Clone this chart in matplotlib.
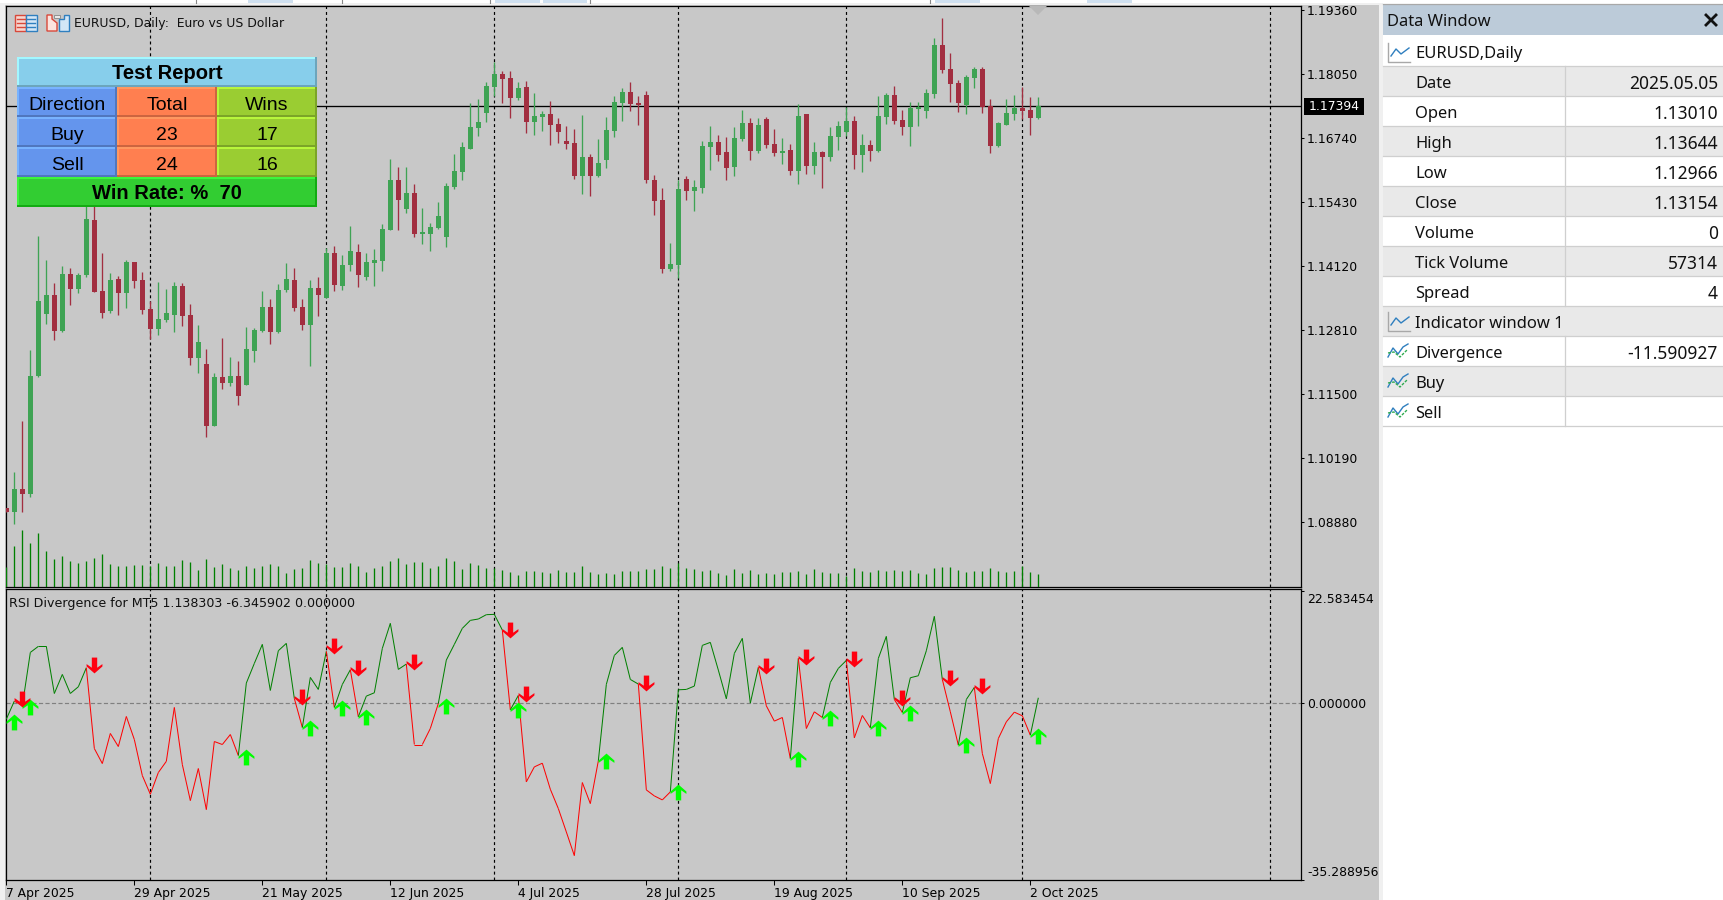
# plot.py - EURUSD daily chart with RSI divergence pane and data window
import numpy as np
import matplotlib
matplotlib.use("Agg")
import matplotlib.pyplot as plt
from matplotlib.collections import LineCollection
from matplotlib.patches import Rectangle, Polygon
from matplotlib.path import Path
from matplotlib.transforms import ScaledTranslation

W, H = 1723, 900

# bars start on 7 Apr 2025, index 0
opens = [
    1.0917,1.0908,1.0956,1.0945,1.1187,1.1314,1.1353,1.1279,1.1396,1.1365,
    1.1394,1.1506,1.1361,1.1320,1.1385,1.1357,1.1420,1.1383,1.1324,1.1283,
    1.13010,1.1312,1.1371,1.1312,1.1224,1.1211,1.1084,1.1185,1.1172,1.1187,
    1.1168,1.1238,1.1279,1.1328,1.1277,1.1363,1.1383,1.1328,1.1291,1.1367,
    1.1346,1.1439,1.1371,1.1414,1.1441,1.1390,1.1418,1.1422,1.1486,1.1588,
    1.1529,1.1561,1.1478,1.1478,1.1490,1.1471,1.1574,1.1604,1.1652,1.1695,
    1.1725,1.1778,1.1805,1.1797,1.1756,1.1778,1.1707,1.1717,1.1723,1.1703,
    1.1668,1.1664,1.1596,1.1635,1.1596,1.1629,1.1688,1.1746,1.1768,1.1746,
    1.1762,1.1588,1.1547,1.1406,1.1414,1.1590,1.1566,1.1572,1.1656,1.1666,
    1.1645,1.1615,1.1672,1.1705,1.1647,1.1713,1.1662,1.1643,1.1650,1.1606,
    1.1723,1.1617,1.1645,1.1635,1.1676,1.1686,1.1709,1.1639,1.1660,1.1647,
    1.1717,1.1762,1.1711,1.1697,1.1733,1.1729,1.1764,1.1864,1.1815,1.1787,
    1.1742,1.1797,1.1815,1.1739,1.1658,1.1701,1.1723,1.1735,1.1731,1.1715,
]
highs = [
    1.0917,1.0990,1.1095,1.1240,1.1473,1.1424,1.1377,1.1412,1.1408,1.1398,
    1.1547,1.1537,1.1439,1.1398,1.1392,1.1424,1.1420,1.1400,1.1340,1.1379,
    1.13644,1.1379,1.1377,1.1334,1.1291,1.1242,1.1193,1.1265,1.1226,1.1218,
    1.1287,1.1285,1.1361,1.1344,1.1375,1.1418,1.1408,1.1344,1.1383,1.1390,
    1.1449,1.1453,1.1435,1.1494,1.1457,1.1439,1.1447,1.1498,1.1631,1.1615,
    1.1615,1.1580,1.1531,1.1500,1.1543,1.1582,1.1641,1.1666,1.1746,1.1754,
    1.1789,1.1830,1.1811,1.1811,1.1789,1.1791,1.1766,1.1729,1.1750,1.1715,
    1.1699,1.1692,1.1721,1.1641,1.1672,1.1717,1.1760,1.1776,1.1789,1.1760,
    1.1770,1.1598,1.1572,1.1459,1.1588,1.1596,1.1588,1.1668,1.1699,1.1680,
    1.1676,1.1697,1.1731,1.1715,1.1715,1.1717,1.1692,1.1674,1.1662,1.1744,
    1.1723,1.1666,1.1647,1.1697,1.1709,1.1738,1.1719,1.1682,1.1670,1.1760,
    1.1766,1.1780,1.1731,1.1748,1.1748,1.1774,1.1879,1.1920,1.1848,1.1793,
    1.1803,1.1819,1.1819,1.1754,1.1707,1.1754,1.1762,1.1778,1.1758,1.1758,
]
lows = [
    1.0908,1.0884,1.0908,1.0939,1.1185,1.1293,1.1261,1.1277,1.1332,1.1357,
    1.1390,1.1359,1.1306,1.1316,1.1312,1.1326,1.1367,1.1314,1.1263,1.1271,
    1.12966,1.1277,1.1289,1.1209,1.1193,1.1062,1.1084,1.1160,1.1166,1.1127,
    1.1168,1.1215,1.1277,1.1252,1.1275,1.1359,1.1320,1.1281,1.1207,1.1310,
    1.1346,1.1361,1.1363,1.1402,1.1369,1.1383,1.1371,1.1402,1.1486,1.1486,
    1.1520,1.1471,1.1457,1.1443,1.1488,1.1451,1.1570,1.1588,1.1652,1.1678,
    1.1707,1.1760,1.1746,1.1715,1.1752,1.1684,1.1680,1.1688,1.1660,1.1664,
    1.1652,1.1590,1.1559,1.1555,1.1594,1.1613,1.1676,1.1709,1.1729,1.1701,
    1.1582,1.1516,1.1398,1.1402,1.1387,1.1547,1.1525,1.1561,1.1609,1.1627,
    1.1588,1.1596,1.1668,1.1629,1.1643,1.1654,1.1637,1.1621,1.1598,1.1580,
    1.1601,1.1601,1.1572,1.1627,1.1650,1.1678,1.1611,1.1604,1.1627,1.1645,
    1.1703,1.1703,1.1680,1.1658,1.1699,1.1715,1.1756,1.1807,1.1748,1.1727,
    1.1723,1.1776,1.1725,1.1643,1.1656,1.1701,1.1711,1.1713,1.1680,1.1713,
]
closes = [
    1.0908,1.0956,1.0945,1.1187,1.1340,1.1353,1.1279,1.1396,1.1365,1.1394,
    1.1508,1.1359,1.1316,1.1383,1.1357,1.1420,1.1381,1.1322,1.1283,1.1304,
    1.13154,1.1371,1.1310,1.1224,1.1257,1.1084,1.1185,1.1172,1.1187,1.1146,
    1.1242,1.1281,1.1328,1.1277,1.1363,1.1385,1.1326,1.1291,1.1367,1.1353,
    1.1439,1.1373,1.1414,1.1443,1.1394,1.1420,1.1424,1.1488,1.1588,1.1547,
    1.1561,1.1478,1.1482,1.1492,1.1514,1.1576,1.1606,1.1656,1.1697,1.1707,
    1.1780,1.1805,1.1795,1.1756,1.1776,1.1707,1.1719,1.1723,1.1701,1.1686,
    1.1662,1.1596,1.1635,1.1596,1.1623,1.1690,1.1748,1.1768,1.1744,1.1742,
    1.1588,1.1545,1.1406,1.1416,1.1570,1.1566,1.1574,1.1658,1.1666,1.1639,
    1.1613,1.1674,1.1705,1.1647,1.1701,1.1660,1.1643,1.1647,1.1606,1.1719,
    1.1617,1.1645,1.1635,1.1678,1.1699,1.1709,1.1639,1.1660,1.1647,1.1719,
    1.1762,1.1709,1.1697,1.1735,1.1737,1.1766,1.1864,1.1813,1.1785,1.1746,
    1.1799,1.1815,1.1737,1.1658,1.1705,1.1725,1.1735,1.1729,1.1715,1.17394,
]
tick_volume = [
    54580,111890,155550,120080,147370,98240,76410,84600,70950,65500,
    70950,79140,90060,62770,57310,57310,60040,60040,57310,65500,
    57314,57310,73680,68230,46390,76410,54580,62770,51850,46390,
    57310,51850,57310,62770,57310,38210,49120,51850,73680,65500,
    62770,54580,54580,65500,57310,40940,51850,57310,70950,79140,
    62770,68230,68230,51850,57310,79140,70950,49120,65500,60040,
    51850,51850,46390,40940,32750,43660,43660,40940,38210,46390,
    40940,40940,57310,40940,35480,38210,35480,43660,43660,43660,
    49120,49120,57310,51850,65500,51850,49120,43660,46390,38210,
    32750,49120,38210,46390,35480,38210,35480,40940,40940,43660,
    35480,49120,40940,38210,38210,30020,51850,43660,40940,46390,
    43660,46390,43660,46390,38210,35480,51850,54580,54580,46390,
    40940,43660,43660,51850,43660,40940,43660,57310,40940,35480,
]
divergence = [
    -3.14,0.47,-0.47,10.22,11.43,11.43,2.00,5.81,2.00,3.34,
    7.15,-9.02,-12.03,-6.01,-8.62,-2.61,-7.22,-14.44,-18.18,-13.83,
    -11.590927,-0.80,-12.23,-19.45,-13.03,-21.25,-7.62,-8.22,-6.22,-10.43,
    4.08,8.02,11.83,2.61,10.56,12.03,1.00,-4.81,5.21,2.81,
    10.43,-0.80,3.81,6.75,-2.67,1.47,2.14,11.03,16.04,6.82,
    7.89,-8.22,-8.22,-5.01,0.00,8.69,11.83,15.04,16.64,16.91,
    17.78,17.84,14.70,-1.27,1.60,-15.70,-12.70,-11.96,-17.18,-21.05,
    -25.73,-30.47,-15.84,-20.05,-11.49,3.81,9.62,11.23,4.81,3.88,
    -17.31,-18.51,-19.31,-17.71,2.74,2.81,3.48,11.63,12.23,6.68,
    0.94,10.02,13.03,0.07,7.22,-0.47,-3.54,-2.81,-11.03,9.02,
    -5.01,-1.67,-2.81,4.21,7.02,8.62,-6.88,-2.41,-4.88,9.02,
    13.43,0.80,-1.80,5.15,5.55,10.56,17.44,4.81,-1.67,-8.35,
    0.80,3.21,-10.02,-16.04,-7.02,-3.68,-1.74,-2.47,-6.345902,1.138303,
]
buy_bars = [1, 3, 30, 38, 42, 45, 55, 64, 75, 84, 99, 103, 109, 113, 120, 129]
buy_vals = [-3.68, -0.80, -10.63, -5.01, -1.00, -2.81, -0.60, -1.34, -11.49, -17.64,
            -11.03, -3.01, -5.01, -2.00, -8.22, -6.42]
sell_bars = [2, 11, 37, 41, 44, 51, 63, 65, 80, 95, 100, 106, 112, 118, 122]
sell_vals = [0.87, 7.75, 1.34, 11.56, 7.15, 8.22, 14.77, 1.94, 4.14, 7.55, 9.36, 8.96,
             1.14, 5.15, 3.54]

separator_bars = [18, 40, 61, 84, 105, 127, 158]
date_ticks = [0, 16, 32, 48, 64, 80, 96, 112, 128]
date_labels = ["7 Apr 2025", "29 Apr 2025", "21 May 2025", "12 Jun 2025", "4 Jul 2025",
               "28 Jul 2025", "19 Aug 2025", "10 Sep 2025", "2 Oct 2025"]
price_ticks = [1.19360, 1.18050, 1.16740, 1.15430, 1.14120, 1.12810, 1.11500, 1.10190, 1.08880]
last_price = 1.17394
ind_ticks = [22.583454, 0.0, -35.288956]

report_rows = [["Direction", "Total", "Wins"], ["Buy", "23", "17"], ["Sell", "24", "16"]]
report_title = "Test Report"
report_footer = "Win Rate: %  70"

window_rows = [("Date", "2025.05.05"), ("Open", "1.13010"), ("High", "1.13644"), ("Low", "1.12966"),
               ("Close", "1.13154"), ("Volume", "0"), ("Tick Volume", "57314"), ("Spread", "4")]
window_ind_rows = [("Divergence", "-11.590927"), ("Buy", ""), ("Sell", "")]

CHART_BG = "#C8C8C8"
CANDLE_UP = "#3FA354"
CANDLE_DOWN = "#A22E40"
VOL_GREEN = "#008000"
CHART_FONT = 8.9
UI_FONT = "Noto Sans"
LABEL_SIZE = 11.9
VALUE_SIZE = 12.5
INK = "#111111"


def px_axes(fig, left, top, right, bottom):
    return fig.add_axes([left / W, 1 - bottom / H, (right - left) / W, (bottom - top) / H])


def style_chart_axes(ax):
    ax.set_facecolor(CHART_BG)
    for s in ax.spines.values():
        s.set_linewidth(0.9)
        s.set_color("black")
    ax.yaxis.tick_right()
    ax.tick_params(axis="y", length=2.4, width=0.75, pad=2.0, labelsize=CHART_FONT, colors="black")
    for b in separator_bars:
        ax.axvline(b, color="black", lw=0.85, ls=(0, (2.5, 2.5)), zorder=1)


def draw_candles(ax):
    x = np.arange(len(closes))
    o, h, l, c = map(np.array, (opens, highs, lows, closes))
    up = c >= o
    for mask, col in ((up, CANDLE_UP), (~up, CANDLE_DOWN)):
        ax.vlines(x[mask], l[mask], h[mask], color=col, lw=0.95, zorder=3)
        ax.bar(x[mask], np.abs(c - o)[mask], bottom=np.minimum(o, c)[mask], width=0.625,
               color=col, linewidth=0, zorder=4)


def draw_divergence(ax):
    x = np.arange(len(divergence))
    segs, cols = [], []
    col = VOL_GREEN
    for k in range(1, len(x)):
        if k in buy_bars:
            col = VOL_GREEN
        elif k in sell_bars:
            col = "#FF0000"
        segs.append([(x[k - 1], divergence[k - 1]), (x[k], divergence[k])])
        cols.append(col)
    ax.add_collection(LineCollection(segs, colors=cols, linewidths=0.72, zorder=3))

    up = Path([(0, 1), (1, 0.12), (1, -0.18), (0.34, 0.28), (0.34, -1), (-0.34, -1),
               (-0.34, 0.28), (-1, -0.18), (-1, 0.12), (0, 1)], closed=True)
    down = Path([(x_, -y_) for x_, y_ in up.vertices], closed=True)
    ax.scatter(buy_bars, buy_vals, marker=up, s=130, color="#00FF00", linewidths=0, zorder=5)
    ax.scatter(sell_bars, sell_vals, marker=down, s=130, color="#FF0010", linewidths=0, zorder=5)


def bevel_cell(ui, x0, y0, x1, y1, fill, light, dark, text, bold=False):
    ui.add_patch(Rectangle((x0, y0), x1 - x0, y1 - y0, fc=fill, ec="none"))
    ui.add_patch(Rectangle((x0, y0), x1 - x0, 2, fc=light, ec="none"))
    ui.add_patch(Rectangle((x0, y0), 2, y1 - y0, fc=light, ec="none"))
    ui.add_patch(Rectangle((x0, y1 - 2), x1 - x0, 2, fc=dark, ec="none"))
    ui.add_patch(Rectangle((x1 - 2, y0), 2, y1 - y0, fc=dark, ec="none"))
    ui.text((x0 + x1) / 2, (y0 + y1) / 2 + (1.5 if bold else 3), text, ha="center", va="center", color="black",
            family="Liberation Sans", fontsize=14.5 if bold else 14, fontweight="bold" if bold else "normal")


def draw_report(ui):
    xs = [17, 117, 217, 317]
    ys = [57, 87, 117, 147, 177, 207]
    bevel_cell(ui, xs[0], ys[0], xs[3], ys[1], "#87CEEB", "#A2F7FF", "#6CA5BC", report_title, True)
    styles = [("#6495ED", "#78B3FF", "#5077BE"), ("#FF7F50", "#FF9860", "#CC6540"),
              ("#9ACD32", "#B8F63C", "#7BA428")]
    for r, row in enumerate(report_rows):
        for c, txt in enumerate(row):
            fill, light, dark = styles[c]
            bevel_cell(ui, xs[c], ys[r + 1], xs[c + 1], ys[r + 2], fill, light, dark, txt)
    bevel_cell(ui, xs[0], ys[4], xs[3], ys[5], "#32CD32", "#3CF63C", "#13AB13", report_footer, True)


def list_icon(ui, x, y):
    # table-like icon in the top left of the chart
    ui.add_patch(Rectangle((x, y), 22, 16, fc="white", ec="none"))
    ui.add_patch(Rectangle((x, y), 11, 16, fc="#F7D6D0", ec="#D8483A", lw=1))
    ui.add_patch(Rectangle((x + 11, y), 11, 16, fc="#D3E6F6", ec="#2F7FBF", lw=1))
    for k in (4, 8, 12):
        ui.plot([x + 2, x + 10], [y + k, y + k], color="#D8483A", lw=1)
        ui.plot([x + 12, x + 20], [y + k, y + k], color="#2F7FBF", lw=1)


def window_icon(ui, x, y):
    ui.add_patch(Polygon([(x, y), (x + 5, y), (x + 5, y + 4), (x + 10, y + 8), (x + 10, y + 16), (x, y + 16)],
                         fc="#FBE3DE", ec="#D8483A", lw=1))
    ui.add_patch(Polygon([(x + 12, y + 4), (x + 17, y + 4), (x + 17, y), (x + 22, y), (x + 22, y + 16), (x + 12, y + 16)],
                         fc="#D3E6F6", ec="#2F7FBF", lw=1))
    ui.add_patch(Rectangle((x + 7, y), 6, 3, fc="#E8E8E8", ec="#909090", lw=0.7))


def line_icon(ui, x, y):
    ui.plot([x, x, x + 22], [y, y + 19, y + 19], color="#A8A8A8", lw=1)
    ui.plot([x + 3, x + 8, x + 13, x + 21], [y + 13, y + 6, y + 11, y + 5], color="#2F7FBF", lw=1)


def squiggle_icon(ui, x, y):
    ui.plot([x, x + 5, x + 10, x + 15, x + 20], [y + 15, y + 6, y + 12, y + 5, y + 2], color="#2F7FBF", lw=1)
    ui.plot([x, x + 6, x + 12, x + 19], [y + 11, y + 10, y + 15, y + 8], color="#2DAA4F", lw=1, ls=(0, (2, 1)))


def draw_chrome(bg):
    bg.add_patch(Rectangle((0, 0), 1383, H, fc="#F0F0F0", ec="none"))
    bg.add_patch(Rectangle((0, 0), 1723, 3, fc="white", ec="none"))
    bg.add_patch(Rectangle((5, 5), 1374, H, fc=CHART_BG, ec="none"))
    for x0, x1 in [(248, 293), (495, 540), (543, 587), (935, 980), (1087, 1132)]:
        bg.add_patch(Rectangle((x0, 0), x1 - x0, 2.5, fc="#CFE0F0", ec="none"))
    for x0 in [196, 342, 490, 590, 930]:
        bg.plot([x0, x0], [0, 3], color="#888888", lw=0.8)


def window_text(ui, x, y, txt, ha="left", size=LABEL_SIZE):
    ui.text(x, y + 4, txt, family=UI_FONT, fontsize=size, va="center", ha=ha, color=INK)


def draw_data_window(ui):
    ui.add_patch(Rectangle((1383, 4), 340, 31, fc="#BCCBD9", ec="none"))
    ui.plot([1383, 1723], [4, 4], color="#A8A8A8", lw=0.9)
    window_text(ui, 1387, 18, "Data Window")
    ui.plot([1706, 1716], [15, 25], color=INK, lw=2)
    ui.plot([1706, 1716], [25, 15], color=INK, lw=2)

    line_icon(ui, 1388, 43)
    window_text(ui, 1415, 50.5, "EURUSD,Daily")

    row_h = 30
    y = 66
    for k, (name, val) in enumerate(window_rows):
        ui.add_patch(Rectangle((1383, y), 340, row_h, fc="#E9E9E9" if k % 2 == 0 else "white", ec="none"))
        window_text(ui, 1415, y + row_h / 2 - 1, name)
        window_text(ui, 1718, y + row_h / 2 - 1, val, ha="right", size=VALUE_SIZE)
        y += row_h
    ui.add_patch(Rectangle((1383, y), 340, row_h, fc="#E9E9E9", ec="none"))
    line_icon(ui, 1388, y + 6)
    window_text(ui, 1415, y + row_h / 2 - 1, "Indicator window 1")
    y += row_h
    for k, (name, val) in enumerate(window_ind_rows):
        ui.add_patch(Rectangle((1383, y), 340, row_h, fc="#E9E9E9" if k % 2 == 1 else "white", ec="none"))
        squiggle_icon(ui, 1388, y + 6)
        window_text(ui, 1415, y + row_h / 2 - 1, name)
        window_text(ui, 1718, y + row_h / 2 - 1, val, ha="right", size=VALUE_SIZE)
        y += row_h

    for yy in range(66, 427, 30):
        ui.plot([1383, 1723], [yy, yy], color="#CFCFCF", lw=0.9)
    ui.plot([1565, 1565], [66, 306], color="#CFCFCF", lw=0.9)
    ui.plot([1565, 1565], [336, 426], color="#CFCFCF", lw=0.9)


def main():
    fig = plt.figure(figsize=(W / 100, H / 100), dpi=100, facecolor="white")

    bg = px_axes(fig, 0, 0, W, H)
    bg.set_xlim(0, W)
    bg.set_ylim(H, 0)
    bg.axis("off")
    draw_chrome(bg)

    xlim = (0, (1301 - 6.33) / 8)

    # price pane
    ax = px_axes(fig, 6.33, 6, 1301, 587)
    style_chart_axes(ax)
    ax.set_xlim(*xlim)
    ax.set_ylim(1.07549, 1.19442)
    ax.axhline(last_price, color="black", lw=0.95, zorder=2)
    ax.set_yticks(price_ticks, [f"{p:.5f}" for p in price_ticks])
    ax.set_xticks([])
    draw_candles(ax)

    # tick volume along the bottom of the price pane
    vol = ax.twinx()
    vol.set_ylim(0, 581 * 2729)
    vol.set_yticks([])
    vol.vlines(np.arange(len(tick_volume)), 0, tick_volume, color=VOL_GREEN, lw=0.95)
    for s in vol.spines.values():
        s.set_visible(False)
    ax.yaxis.tick_right()  # twinx moves the price ticks back to the left

    # indicator pane
    ind = px_axes(fig, 6.33, 589, 1301, 880)
    style_chart_axes(ind)
    ind.set_xlim(*xlim)
    ind.set_ylim(-35.35, 22.92)
    ind.axhline(0, color="#808080", lw=0.85, ls=(0, (3.5, 2)), zorder=2)
    ind.set_yticks(ind_ticks, [f"{v:.6f}" for v in ind_ticks])
    labels = ind.get_yticklabels()
    labels[0].set_va("top")
    labels[0].set_transform(labels[0].get_transform() + ScaledTranslation(0, -2 / 100, fig.dpi_scale_trans))
    labels[2].set_va("bottom")
    labels[2].set_transform(labels[2].get_transform() + ScaledTranslation(0, 1 / 100, fig.dpi_scale_trans))
    ind.set_xticks(date_ticks, date_labels, ha="left")
    ind.tick_params(axis="x", length=3.6, width=0.75, pad=1.5, labelsize=CHART_FONT, colors="black")
    draw_divergence(ind)

    # overlay for everything drawn on top of the chart
    ui = px_axes(fig, 0, 0, W, H)
    ui.set_xlim(0, W)
    ui.set_ylim(H, 0)
    ui.axis("off")
    ui.patch.set_alpha(0)

    list_icon(ui, 15, 15)
    window_icon(ui, 47, 15)
    ui.text(74, 23, "EURUSD, Daily:  Euro vs US Dollar", fontsize=CHART_FONT, va="center", color=INK)
    ui.text(9, 603, "RSI Divergence for MT5 1.138303 -6.345902 0.000000", fontsize=9.1,
            va="center", color=INK)
    ui.add_patch(Polygon([(1029, 6), (1047, 6), (1038, 15)], fc="#B8B8B8", ec="none"))
    ui.add_patch(Rectangle((1304, 98), 60, 17, fc="black", ec="none"))
    ui.text(1334, 106.5, f"{last_price:.5f}", fontsize=CHART_FONT, color="white", ha="center", va="center")

    draw_report(ui)
    draw_data_window(ui)

    fig.savefig("out.png", dpi=100, facecolor="white")


if __name__ == "__main__":
    main()
